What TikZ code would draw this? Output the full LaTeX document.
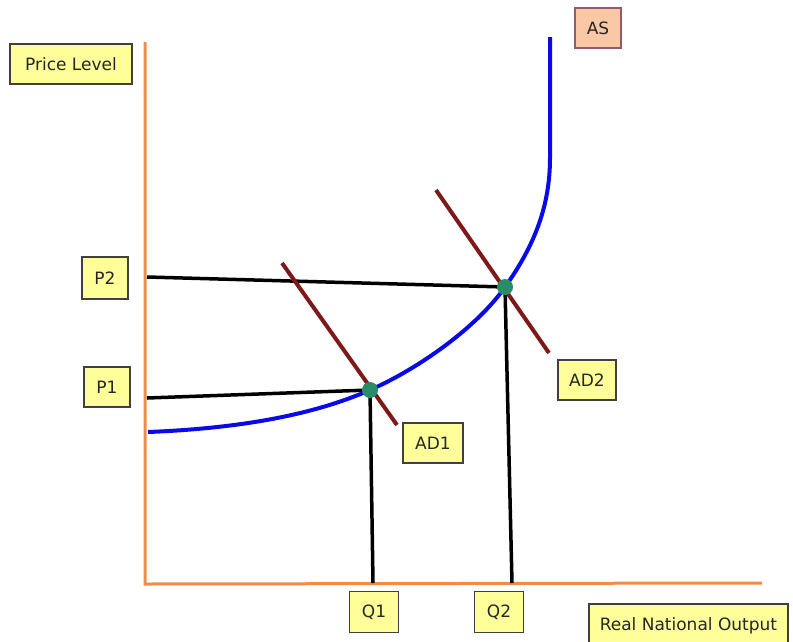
\documentclass[tikz,border=0pt]{standalone}
\usepackage{fontspec}
\setmainfont{DejaVu Sans}
\definecolor{axiscol}{RGB}{240,140,72}
\definecolor{lblfill}{RGB}{255,255,153}
\definecolor{asfill}{RGB}{250,200,165}
\definecolor{asdraw}{RGB}{150,90,110}
\definecolor{adcol}{RGB}{125,25,25}
\definecolor{ascol}{RGB}{10,10,230}
\definecolor{eqcol}{RGB}{40,140,105}
\begin{document}
\begin{tikzpicture}[x=1pt,y=-1pt,
  lbl/.style={draw=black!75, line width=1.5pt, fill=lblfill, rectangle, inner sep=0pt,
    font=\fontsize{17}{19}\selectfont, text=black!85},
  axis/.style={draw=axiscol, line width=3pt, line join=miter},
  guide/.style={draw=black, line width=3.5pt},
  adline/.style={draw=adcol, line width=4pt},
  asline/.style={draw=ascol, line width=4pt},
  eq/.style={circle, fill=eqcol, inner sep=0pt, minimum size=16pt}]
\useasboundingbox (0,0) rectangle (793,641);
% axes
\coordinate (ytop) at (145,42);
\coordinate (origin) at (145,584);
\coordinate (xend) at (762,583);
\draw[axis] (ytop) -- (origin) -- (xend);
% labels
\node[lbl, minimum width=122pt, minimum height=40pt] (pl) at (71,64) {Price Level};
\node[lbl, fill=asfill, draw=asdraw, minimum width=46pt, minimum height=40pt] (aslbl) at (598,28) {AS};
\node[lbl, minimum width=46pt, minimum height=42pt] (p2) at (105,278) {P2};
\node[lbl, minimum width=46pt, minimum height=40pt] (p1) at (107,387) {P1};
\node[lbl, minimum width=60pt, minimum height=40pt] (ad1) at (433,443) {AD1};
\node[lbl, minimum width=58pt, minimum height=40pt] (ad2) at (587,380) {AD2};
\node[lbl, minimum width=49pt, minimum height=41pt] (q1) at (374,612) {Q1};
\node[lbl, minimum width=49pt, minimum height=41pt] (q2) at (499,612) {Q2};
\node[lbl, anchor=north west, minimum height=44pt, inner xsep=11pt] (rno) at (588,603) {Real National Output};
% equilibrium points
\coordinate (E1) at (370,390);
\coordinate (E2) at (505,287);
\coordinate (p1end) at (147,398);
\coordinate (p2end) at (147,277);
\coordinate (q1end) at (373,583);
\coordinate (q2end) at (512,583);
% guide lines
\draw[guide] (p2end) -- (E2) -- (q2end);
\draw[guide] (p1end) -- (E1) -- (q1end);
% AD lines
\coordinate (ad1a) at (282,263);
\coordinate (ad1b) at (397,425);
\coordinate (ad2a) at (436,190);
\coordinate (ad2b) at (549,353);
\draw[adline] (ad1a) -- (ad1b);
\draw[adline] (ad2a) -- (ad2b);
% AS curve
\coordinate (as0) at (148,432);
\coordinate (asv) at (550,158);
\coordinate (astop) at (550,37);
\draw[asline] (as0) .. controls (250,428) and (320,412) .. (E1)
  .. controls (420,368) and (478,326) .. (E2)
  .. controls (535,245) and (550,205) .. (asv) -- (astop);
\node[eq] (e1) at (E1) {};
\node[eq] (e2) at (E2) {};
\end{tikzpicture}
\end{document}
